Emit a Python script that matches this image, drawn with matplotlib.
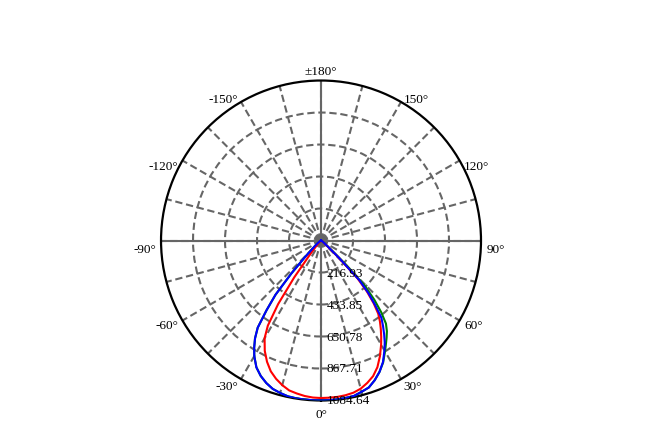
import numpy as np
import matplotlib
matplotlib.use("Agg")
import matplotlib.pyplot as plt

plt.rcParams['font.family'] = ['Liberation Serif', 'DejaVu Serif']

# кольца интенсивности (кд)
ring_vals = [216.93, 433.85, 650.78, 867.71, 1084.64]
ring_labels = ["216.93", "433.85", "650.78", "867.71", "1084.64"]

# угловые метки
tick_angles = [0, 30, 60, 90, 120, 150, 180, 210, 240, 270, 300, 330]
tick_labels = ["0°", "30°", "60°", "90°", "120°", "150°", "±180°",
               "-150°", "-120°", "-90°", "-60°", "-30°"]
tick_va = ["top", "center", "center", "top", "top", "center", "bottom",
           "center", "top", "top", "center", "center"]

# углы кривых силы света
angles = [-180, -120, -90, -70, -60, -55, -50, -48, -46, -44, -42, -40, -38,
          -36, -34, -32, -30, -27, -24, -21, -18, -15, -12, -9, -6, -3, 0,
          3, 6, 9, 12, 15, 18, 21, 24, 27, 30, 32, 34, 36, 38, 40, 42, 44,
          46, 48, 50, 55, 60, 70, 90, 120, 180]

green = [0, 0, 2, 4, 8, 15, 35, 55, 80, 160, 300, 480, 600,
         730, 800, 855, 905, 965, 1005, 1035, 1058, 1070, 1080, 1083, 1084, 1084, 1084,
         1084, 1083, 1080, 1077, 1062, 1048, 1015, 975, 928, 868, 830, 795, 760, 715, 635, 540, 430,
         240, 90, 40, 15, 8, 4, 2, 0, 0]

blue = [0, 0, 2, 4, 8, 15, 35, 55, 80, 160, 300, 480, 600,
        730, 800, 855, 905, 965, 1005, 1035, 1058, 1070, 1080, 1083, 1084, 1084, 1084,
        1084, 1083, 1080, 1077, 1062, 1048, 1015, 975, 925, 860, 815, 765, 715, 665, 570, 480, 375,
        170, 70, 35, 15, 8, 4, 2, 0, 0]

red = [0, 0, 1, 2, 2, 3, 4, 6, 8, 15, 30, 60, 130,
       310, 520, 680, 765, 840, 900, 950, 986, 1015, 1039, 1050, 1060, 1066, 1068,
       1067, 1066, 1062, 1055, 1040, 1015, 985, 940, 880, 815, 770, 725, 680, 630, 555, 465, 355,
       160, 60, 30, 12, 6, 3, 1, 0, 0]

fig = plt.figure(figsize=(6.53, 4.31), dpi=100)
ax = fig.add_axes([0.2466, 0.0684, 0.49, 0.7425], projection='polar')
ax.set_theta_zero_location('S')
ax.set_theta_direction(1)
ax.set_ylim(0, ring_vals[-1])

grid_col = '#666666'
dash = (0, (3.5, 1.8))

ax.set_rgrids(ring_vals[:-1], labels=[""] * 4)
ax.set_thetagrids(np.arange(0, 360, 15), labels=[""] * 24)
ax.grid(True, color=grid_col, linestyle=dash, linewidth=1.5)

# сплошные оси 0/90/180/270
for a in [0, 90, 180, 270]:
    ax.plot([np.deg2rad(a)] * 2, [0, ring_vals[-1]], color=grid_col, lw=1.5, zorder=2)

ax.spines['polar'].set_color('black')
ax.spines['polar'].set_linewidth(1.6)

th = np.deg2rad(angles)
ax.plot(th, green, color='#008000', lw=1.5, zorder=3)
ax.plot(th, red, color='#ff0000', lw=1.5, zorder=4)
ax.plot(th, blue, color='#0000ff', lw=1.5, zorder=5)

# подписи колец
for r, lab in zip(ring_vals, ring_labels):
    ax.annotate(lab, xy=(0, r), xytext=(4, 0), textcoords='offset points',
                ha='left', va='center', fontsize=9.5, zorder=6)

# подписи углов
for a, lab, va in zip(tick_angles, tick_labels, tick_va):
    s, c = np.sin(np.deg2rad(a)), np.cos(np.deg2rad(a))
    if s > 0.1:
        ha = 'left'
    elif s < -0.1:
        ha = 'right'
    else:
        ha = 'center'
    d = 3.8
    ax.annotate(lab, xy=(np.deg2rad(a), ring_vals[-1]),
                xytext=(s * d, -c * d - 1.5), textcoords='offset points',
                ha=ha, va=va, fontsize=9.5, annotation_clip=False)

fig.savefig('out.png', dpi=100)
